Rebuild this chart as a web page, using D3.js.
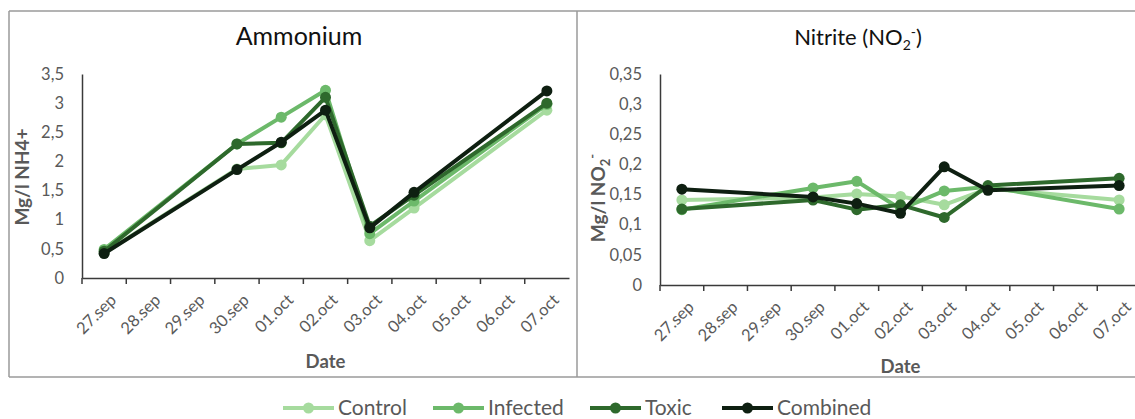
<!DOCTYPE html>
<html>
<head>
<meta charset="utf-8">
<script src="https://cdn.jsdelivr.net/npm/d3@7"></script>
<style>
  body { margin: 0; background: #fff; }
  svg { display: block; font-family: Lato, "Open Sans", sans-serif; }
</style>
</head>
<body>
<div id="main-container"></div>
<script>
// categories on the date axis
var dates = ["27.sep", "28.sep", "29.sep", "30.sep", "01.oct", "02.oct",
             "03.oct", "04.oct", "05.oct", "06.oct", "07.oct"];
// days a sample was taken
var sampleDates = ["27.sep", "30.sep", "01.oct", "02.oct", "03.oct", "04.oct", "07.oct"];

var seriesNames = ["Control", "Infected", "Toxic", "Combined"];
var seriesColors = ["#a6db9e", "#6cb96a", "#2e692c", "#0e1f11"];

// Ammonium, mg/l NH4+
var ammControl  = [0.43, 1.87, 1.94, 2.80, 0.64, 1.20, 2.88];
var ammInfected = [0.49, 2.30, 2.76, 3.22, 0.76, 1.32, 2.98];
var ammToxic    = [0.46, 2.30, 2.32, 3.10, 0.89, 1.42, 3.00];
var ammCombined = [0.42, 1.86, 2.33, 2.88, 0.86, 1.47, 3.21];
var ammTicks = [0, 0.5, 1, 1.5, 2, 2.5, 3, 3.5];

// Nitrite, mg/l NO2-
var nitControl  = [0.141, 0.145, 0.151, 0.147, 0.133, 0.160, 0.141];
var nitInfected = [0.125, 0.161, 0.172, 0.126, 0.156, 0.163, 0.126];
var nitToxic    = [0.126, 0.141, 0.125, 0.133, 0.112, 0.165, 0.177];
var nitCombined = [0.159, 0.146, 0.135, 0.119, 0.196, 0.157, 0.165];
var nitTicks = [0, 0.05, 0.1, 0.15, 0.2, 0.25, 0.3, 0.35];

var width = 1135, height = 419;
var grey = "#595959";

var svg = d3.select("#main-container")
            .append("svg")
            .attr("width", width)
            .attr("height", height);

// outer frame of the two panels
var frame = svg.append("g").attr("stroke", "#9a9a9a").attr("stroke-width", 1.5);
frame.append("line").attr("x1", 9).attr("x2", width).attr("y1", 11).attr("y2", 11);
frame.append("line").attr("x1", 9).attr("x2", width).attr("y1", 377).attr("y2", 377);
frame.append("line").attr("x1", 9).attr("x2", 9).attr("y1", 11).attr("y2", 377);
frame.append("line").attr("x1", 577).attr("x2", 577).attr("y1", 11).attr("y2", 377);

function commaFmt(v) { return String(v).replace(".", ","); }

function drawPanel(opt) {
    var g = svg.append("g");

    var x = d3.scaleBand().domain(dates).range([opt.left, opt.right]);
    var y = d3.scaleLinear().domain([0, opt.max]).range([opt.bottom, opt.top]);

    // y axis: line + labels, no ticks
    var yAxis = g.append("g")
        .attr("transform", "translate(" + opt.left + ",0)")
        .call(d3.axisLeft(y).tickValues(opt.ticks).tickSize(0).tickPadding(18).tickFormat(commaFmt));
    yAxis.select(".domain").attr("stroke", "#3a3a3a").attr("stroke-width", 1.5);
    yAxis.selectAll("text").attr("fill", grey).attr("font-size", "16.5px")
        .attr("font-family", "Lato, sans-serif");

    // x axis with ticks on day boundaries
    var xAxis = g.append("g")
        .attr("transform", "translate(0," + opt.bottom + ")")
        .call(d3.axisBottom(x).tickSize(0).tickFormat(""));
    xAxis.select(".domain").attr("stroke", "#3a3a3a").attr("stroke-width", 1.5);
    xAxis.selectAll(".bound")
        .data(dates)
        .enter()
        .append("line")
        .attr("x1", function(d) { return x(d); })
        .attr("x2", function(d) { return x(d); })
        .attr("y1", 0).attr("y2", 6)
        .attr("stroke", "#3a3a3a").attr("stroke-width", 1.5);

    g.selectAll(".xlab")
        .data(dates)
        .enter()
        .append("text")
        .attr("transform", function(d) {
            return "translate(" + (x(d) + x.bandwidth() / 2 + 9) + "," + (opt.bottom + 19) + ") rotate(-45)";
        })
        .attr("text-anchor", "end")
        .attr("dy", "0.35em")
        .attr("fill", grey)
        .attr("font-size", "16.5px")
        .text(function(d) { return d; });

    // lines and markers
    var line = d3.line()
        .x(function(d) { return x(d.date) + x.bandwidth() / 2; })
        .y(function(d) { return y(d.v); });

    opt.series.forEach(function(vals, si) {
        var pts = vals.map(function(v, i) { return { date: sampleDates[i], v: v }; });
        g.append("path")
            .datum(pts)
            .attr("d", line)
            .attr("fill", "none")
            .attr("stroke", seriesColors[si])
            .attr("stroke-width", 4)
            .attr("stroke-linejoin", "round");
        g.selectAll(".pt" + si)
            .data(pts)
            .enter()
            .append("circle")
            .attr("cx", function(d) { return x(d.date) + x.bandwidth() / 2; })
            .attr("cy", function(d) { return y(d.v); })
            .attr("r", 5.5)
            .attr("fill", seriesColors[si]);
    });

    // titles
    var t = g.append("text")
        .attr("x", opt.titleX).attr("y", 45)
        .attr("text-anchor", "middle")
        .attr("font-size", opt.titleSize)
        .attr("fill", "#111");
    opt.title(t);

    g.append("text")
        .attr("x", (opt.left + opt.right) / 2).attr("y", opt.dateY)
        .attr("text-anchor", "middle")
        .attr("font-size", "18.5px").attr("font-weight", "bold")
        .attr("fill", grey)
        .text("Date");

    var yl = g.append("text")
        .attr("transform", "translate(" + opt.ylabX + "," + opt.ylabY + ") rotate(-90)")
        .attr("text-anchor", "middle")
        .attr("font-size", "19px").attr("font-weight", "bold")
        .attr("fill", grey);
    opt.ylabel(yl);
}

drawPanel({
    left: 82, right: 569, top: 74, bottom: 278, max: 3.5, ticks: ammTicks,
    series: [ammControl, ammInfected, ammToxic, ammCombined],
    titleX: 299, titleSize: "25px", dateY: 368, ylabX: 29, ylabY: 177,
    title: function(t) { t.text("Ammonium"); },
    ylabel: function(t) { t.text("Mg/l NH4+"); }
});

drawPanel({
    left: 660, right: 1141, top: 74, bottom: 285, max: 0.35, ticks: nitTicks,
    series: [nitControl, nitInfected, nitToxic, nitCombined],
    titleX: 858, titleSize: "22px", dateY: 373, ylabX: 605, ylabY: 198,
    title: function(t) {
        t.append("tspan").text("Nitrite (NO");
        t.append("tspan").attr("font-size", "14px").attr("dy", 5).text("2");
        t.append("tspan").attr("font-size", "14px").attr("dy", -13).text("-");
        t.append("tspan").attr("dy", 8).text(")");
    },
    ylabel: function(t) {
        t.append("tspan").text("Mg/l NO");
        t.append("tspan").attr("font-size", "13px").attr("dy", 5).text("2");
        t.append("tspan").attr("font-size", "13px").attr("dy", -13).text("-");
    }
});

// legend
var legX = [283, 433, 590, 722];
var leg = svg.append("g");
seriesNames.forEach(function(name, i) {
    var lg = leg.append("g").attr("transform", "translate(" + legX[i] + ",408)");
    lg.append("line").attr("x1", 0).attr("x2", 51).attr("y1", 0).attr("y2", 0)
        .attr("stroke", seriesColors[i]).attr("stroke-width", 4);
    lg.append("circle").attr("cx", 25.5).attr("cy", 0).attr("r", 5.5).attr("fill", seriesColors[i]);
    lg.append("text").attr("x", 55).attr("y", 0).attr("dy", "0.35em")
        .attr("font-size", "21px").attr("fill", grey).text(name);
});
</script>
</body>
</html>
